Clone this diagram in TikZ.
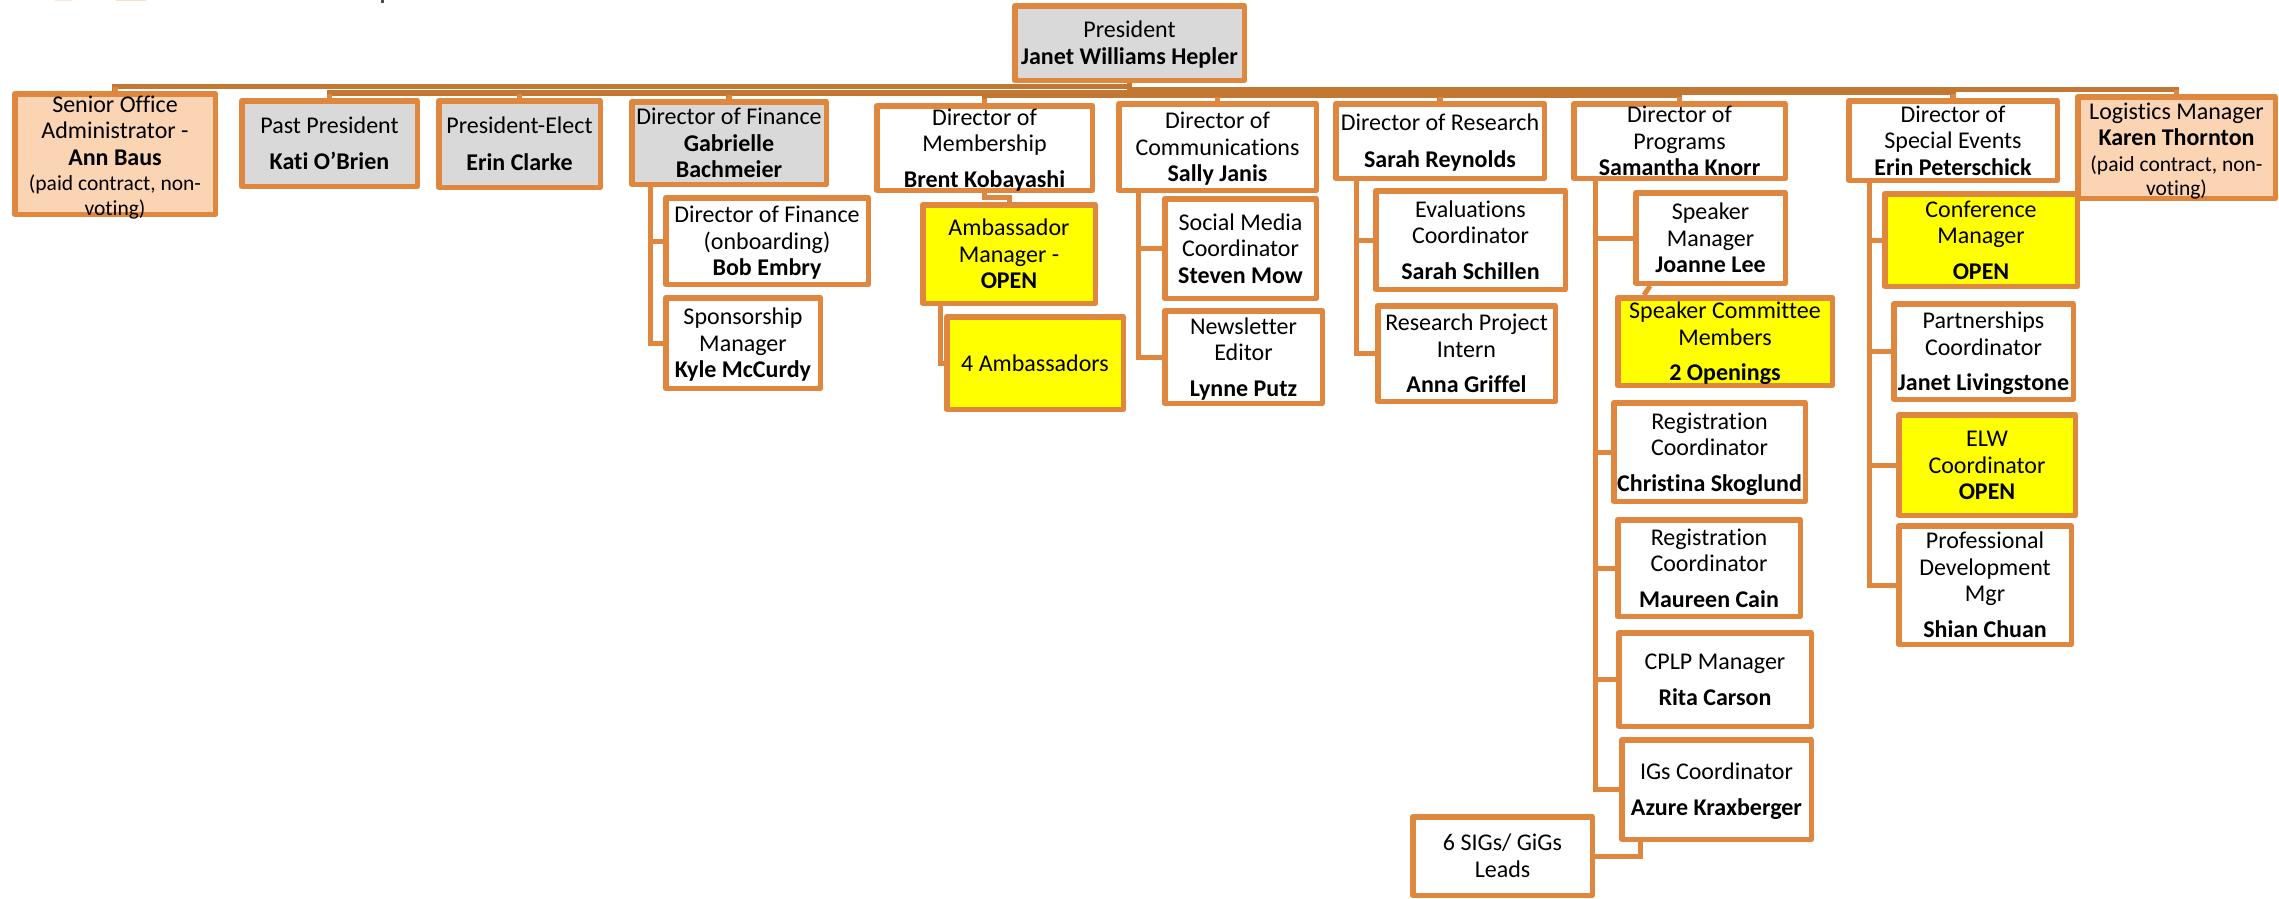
\documentclass[tikz,border=0pt]{standalone}
\usepackage{fontspec}
\setmainfont[Ligatures={ResetAll,NoCommon}]{Carlito}
\definecolor{boxline}{HTML}{E0873F}
\definecolor{busline}{HTML}{C27832}
\definecolor{greyfill}{HTML}{D9D9D9}
\definecolor{peachfill}{HTML}{FBD4B4}
\definecolor{openfill}{HTML}{FFFF00}
\tikzset{
  obox/.style={draw=boxline,line width=5.5pt,rectangle,inner sep=0pt,line join=round,text=black},
  plainbox/.style={obox,fill=white},
  greybox/.style={obox,fill=greyfill},
  peachbox/.style={obox,fill=peachfill},
  openbox/.style={obox,fill=openfill},
  conn/.style={draw=boxline,line width=5pt,line join=miter},
  bus/.style={draw=busline,line width=5.5pt,line join=miter},
}
\newcommand{\nm}[1]{\textbf{#1}}
\newcommand{\sml}{\fontsize{21.5}{23}\selectfont}
\newcommand{\topr}{\rule{0pt}{22pt}}
% name, style, x1, y1, x2, y2 (outer edges, px), text
\newcommand{\obx}[7]{%
  \pgfmathsetmacro{\cxx}{(#3+#5)/2}\pgfmathsetmacro{\cyy}{(#4+#6)/2}%
  \pgfmathsetmacro{\www}{#5-#3-5.5}\pgfmathsetmacro{\hhh}{#6-#4-5.5}%
  \node[#2,minimum width=\www pt,minimum height=\hhh pt] (#1) at (\cxx,\cyy)
    {\smash{\raisebox{-9pt}{\fontsize{24}{26.5}\selectfont\begin{tabular}[c]{@{}c@{}}#7\end{tabular}}}};%
}
\begin{document}
\begin{tikzpicture}[x=1pt,y=-1pt]
\useasboundingbox (0,0) rectangle (2279,898);
% clipped remains of the logo at the top edge
\fill[peachfill!60] (55,0) rectangle (72,0.8);
\fill[peachfill!80] (116,0) rectangle (146,1.2);
\fill[black!70] (381,0) rectangle (384,2.5);
\obx{pres}{greybox}{1012}{3}{1247}{83}{President\\\nm{Janet Williams Hepler}}
\obx{senior}{peachbox}{12}{91}{218}{217}{\topr Senior Office\\Administrator -\\\nm{Ann Baus}\\[-1pt]{\sml (paid contract, non-}\\[-2pt]{\sml voting)}}
\obx{past}{greybox}{239}{98}{420}{189}{Past President\\[10pt]\nm{Kati O'Brien}}
\obx{elect}{greybox}{436}{98}{603}{190}{President-Elect\\[10pt]\nm{Erin Clarke}}
\obx{fin}{greybox}{629}{99}{829}{187}{Director of Finance\\\nm{Gabrielle}\\\nm{Bachmeier}}
\obx{onb}{plainbox}{663}{195}{871}{287}{Director of Finance\\(onboarding)\\\nm{Bob Embry}}
\obx{spons}{plainbox}{663}{295}{823}{391}{Sponsorship\\Manager\\\nm{Kyle McCurdy}}
\obx{memb}{plainbox}{874}{103}{1095}{193}{Director of\\Membership\\[9pt]\nm{Brent Kobayashi}}
\obx{ambm}{openbox}{920}{202}{1098}{306}{Ambassador\\Manager -\\\nm{OPEN}}
\obx{amb}{openbox}{944}{314}{1126}{412}{4 Ambassadors}
\obx{comm}{plainbox}{1116}{101}{1319}{193}{Director of\\Communications\\\nm{Sally Janis}}
\obx{social}{plainbox}{1162}{196}{1319}{301}{Social Media\\Coordinator\\\nm{Steven Mow}}
\obx{news}{plainbox}{1162}{308}{1325}{406}{Newsletter\\Editor\\[9pt]\nm{Lynne Putz}}
\obx{res}{plainbox}{1333}{101}{1547}{181}{Director of Research\\[10pt]\nm{Sarah Reynolds}}
\obx{eval}{plainbox}{1373}{188}{1568}{292}{Evaluations\\Coordinator\\[9pt]\nm{Sarah Schillen}}
\obx{intern}{plainbox}{1375}{303}{1558}{404}{Research Project\\Intern\\[9pt]\nm{Anna Griffel}}
\obx{prog}{plainbox}{1571}{101}{1788}{181}{Director of\\Programs\\\nm{Samantha Knorr}}
\obx{spk}{plainbox}{1633}{190}{1788}{286}{Speaker\\Manager\\\nm{Joanne Lee}}
\obx{cmte}{openbox}{1615}{295}{1835}{388}{Speaker Committee\\Members\\[9pt]\nm{2 Openings}}
\obx{rega}{plainbox}{1611}{400}{1808}{504}{Registration\\Coordinator\\[9pt]\nm{Christina Skoglund}}
\obx{regb}{plainbox}{1615}{517}{1803}{619}{Registration\\Coordinator\\[9pt]\nm{Maureen Cain}}
\obx{cplp}{plainbox}{1616}{630}{1814}{729}{CPLP Manager\\[10pt]\nm{Rita Carson}}
\obx{igs}{plainbox}{1619}{737}{1814}{842}{IGs Coordinator\\[10pt]\nm{Azure Kraxberger}}
\obx{sigs}{plainbox}{1410}{814}{1595}{898}{6 SIGs/ GiGs\\Leads}
\obx{spec}{plainbox}{1846}{98}{2060}{183}{Director of\\Special Events\\\nm{Erin Peterschick}}
\obx{conf}{openbox}{1882}{191}{2080}{289}{Conference\\Manager\\[9pt]\nm{OPEN}}
\obx{part}{plainbox}{1891}{301}{2076}{402}{Partnerships\\Coordinator\\[9pt]\nm{Janet Livingstone}}
\obx{elw}{openbox}{1896}{412}{2078}{518}{ELW\\Coordinator\\\nm{OPEN}}
\obx{prof}{plainbox}{1896}{523}{2074}{647}{Professional\\Development\\Mgr\\[9pt]\nm{Shian Chuan}}
\obx{logi}{peachbox}{2075}{94}{2278}{201}{\topr Logistics Manager\\\nm{Karen Thornton}\\[-1pt]{\sml (paid contract, non-}\\[-2pt]{\sml voting)}}
% president to direct reports
\draw[bus] (pres.south) -- (pres.south |- 0,86.5) -| (senior.north);
\draw[bus] (pres.south) -- (pres.south |- 0,93) -| (past.north);
\draw[bus] (pres.south) -- (pres.south |- 0,93) -| (elect.north);
\draw[bus] (pres.south) -- (pres.south |- 0,93) -| (fin.north);
\draw[bus] (pres.south) -- (pres.south |- 0,95) -| (memb.north);
\draw[bus] (pres.south) -- (pres.south |- 0,95) -| (comm.north);
\draw[bus] (pres.south) -- (pres.south |- 0,95) -| (res.north);
\draw[bus] (pres.south) -- (pres.south |- 0,95) -| (prog.north);
\draw[bus] (pres.south) -- (pres.south |- 0,92) -| (spec.north);
\draw[bus] (pres.south) -- (pres.south |- 0,89.5) -| (logi.north);
% short drops in the box colour
\foreach \n in {senior,past,elect,fin,memb,comm,res,prog,spec,logi}{
  \draw[conn] (\n.north) -- ++(0,-4);
}
% children
\coordinate (tfin) at (650,187);
\draw[conn] (tfin) |- (onb.west);
\draw[conn] (tfin) |- (spons.west);
\coordinate (mamb) at (0,197);
\draw[conn] (memb.south) -- (memb.south |- mamb) -| (ambm.north);
\coordinate (tamb) at (940,306);
\draw[conn] (tamb) |- (amb.west);
\coordinate (tcomm) at (1138,193);
\draw[conn] (tcomm) |- (social.west);
\draw[conn] (tcomm) |- (news.west);
\coordinate (tres) at (1356,181);
\draw[conn] (tres) |- (eval.west);
\draw[conn] (tres) |- (intern.west);
\coordinate (tprog) at (1595,181);
\foreach \n in {spk,rega,regb,cplp,igs}{\draw[conn] (tprog) |- (\n.west);}
\coordinate (dcs) at (1650,286);
\coordinate (dce) at (1644,295);
\draw[conn] (dcs) -- (dce);
\coordinate (tsig) at (1640,842);
\draw[conn] (tsig) |- (sigs.east);
\coordinate (tspec) at (1869,183);
\foreach \n in {conf,part,elw,prof}{\draw[conn] (tspec) |- (\n.west);}
\end{tikzpicture}
\end{document}
